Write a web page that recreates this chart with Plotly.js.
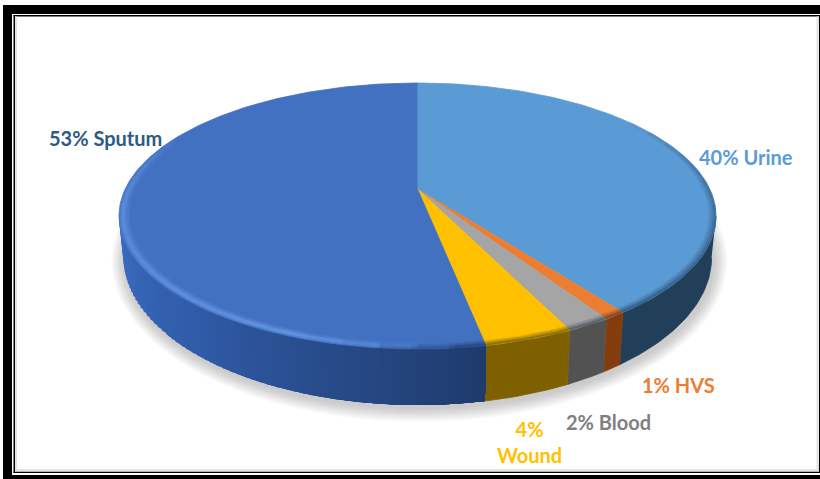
<!DOCTYPE html>
<html>
<head>
<meta charset="utf-8">
<script src="https://cdn.plot.ly/plotly-3.0.1.min.js"></script>
<style>html,body{margin:0;padding:0;background:#fff;overflow:hidden}#chart{width:820px;height:479px}</style>
</head>
<body>
<div id="chart"></div>
<script>
// Specimen shares, clockwise from twelve o'clock
const categories = ['Urine', 'HVS', 'Blood', 'Wound', 'Sputum'];
const shares = [40, 1, 2, 4, 53];
const faceColors = ['#5b9bd5', '#ed7d31', '#a5a5a5', '#ffc000', '#4271c2'];
const wallColors = ['#223f59', '#843c0c', '#525252', '#7f6000', '#2f5aa5'];
const labelColors = ['#5b9bd5', '#ed7d31', '#7f7f7f', '#ffc000', '#2d5a85'];
const labelTexts = ['40% Urine', '1% HVS', '2% Blood', '4%<br>Wound', '53% Sputum'];
const labelX = [746, 678, 608, 529, 105.5];
const labelY = [157, 385, 422, 442, 138];

// Perspective disc drawn in a 820 x 479 unit plot area
const CX = 417.5, CY = 189, RX = 292.3, PERSP = -0.203, DEPTH = 89.15;
const TOP_CY = 216, TOP_RX = 298.5, TOP_RY = 133;
const BASE_CY = 258, BASE_RX = 294, BASE_RY = 147;
const rad = d => d * Math.PI / 180;

function facePoint(deg, r) {
  const u = r * Math.sin(rad(deg)), v = -r * Math.cos(rad(deg)), w = 1 + PERSP * v;
  return [CX + RX * u / w, (CY + DEPTH * v) / w];
}
function basePoint(deg) {
  const p = facePoint(deg, 1);
  const s = (p[0] - CX) / TOP_RX, c = (p[1] - TOP_CY) / TOP_RY;
  return [CX + BASE_RX * s, BASE_CY + BASE_RY * c];
}
function range(a, b, step) {
  const out = [];
  for (let d = a; d < b; d += step) out.push(d);
  out.push(b);
  return out;
}
function mix(a, b, t) {
  const ca = [1, 3, 5].map(i => parseInt(a.substr(i, 2), 16));
  const cb = [1, 3, 5].map(i => parseInt(b.substr(i, 2), 16));
  return 'rgb(' + ca.map((v, i) => Math.round(v + (cb[i] - v) * t)).join(',') + ')';
}

const traces = [];
function poly(pts, fill, edge) {
  traces.push({
    x: pts.map(p => p[0]), y: pts.map(p => p[1]), type: 'scatter', mode: 'lines',
    fill: 'toself', fillcolor: fill, line: {color: edge || fill, width: edge ? 0.8 : 0},
    hoverinfo: 'skip', showlegend: false
  });
}
function stroke(pts, color, width) {
  traces.push({
    x: pts.map(p => p[0]), y: pts.map(p => p[1]), type: 'scatter', mode: 'lines',
    line: {color: color, width: width}, hoverinfo: 'skip', showlegend: false
  });
}

// Soft ground shadow under the disc
const shadowAngles = range(0, 360, 4);
for (let k = 14; k >= 1; k--) {
  poly(shadowAngles.map(d => [
    CX + 2 + (BASE_RX + k) * Math.sin(rad(d)),
    BASE_CY + 3 + (BASE_RY + k) * Math.cos(rad(d))
  ]), 'rgba(120,120,120,0.028)', null);
}

// Slice boundaries in degrees
const bounds = [0];
shares.forEach(s => bounds.push(bounds[bounds.length - 1] + s * 3.6));

// Side wall, visible only on the near half of the disc
const WALL_A = 101.7, WALL_B = 258.3;
shares.forEach((s, i) => {
  const a = Math.max(bounds[i], WALL_A), b = Math.min(bounds[i + 1], WALL_B);
  if (b <= a) return;
  if (categories[i] === 'Sputum') {
    // Wall gets lighter away from the front; strips overlap so no seams show
    const steps = range(a, b, 1.5);
    for (let j = steps.length - 2; j >= 0; j--) {
      const d0 = steps[j], d1 = steps[j + 1];
      const t = (d1 - a) / (b - a);
      const col = t < 0.55 ? mix('#1f3a6c', '#2f5aa5', t / 0.55) : mix('#2f5aa5', '#3c6ec3', (t - 0.55) / 0.45);
      const arc = range(a, d1, Math.max(d1 - a, 0.1) / 3);
      poly(arc.map(d => facePoint(d, 1)).concat(arc.slice().reverse().map(basePoint)), col, null);
    }
  } else {
    const arc = range(a, b, 1);
    poly(arc.map(d => facePoint(d, 1)).concat(arc.slice().reverse().map(basePoint)), wallColors[i], wallColors[i]);
  }
});

// Top face wedges
shares.forEach((s, i) => {
  const arc = range(bounds[i], bounds[i + 1], 1).map(d => facePoint(d, 1));
  poly([facePoint(0, 0)].concat(arc), faceColors[i], faceColors[i]);
});

// Bevel along the rim: a dark falloff on the right, a pale highlight on the left
function bevel(a, b, color, strength, layers) {
  layers.forEach(l => {
    const segs = range(a, b, 6);
    for (let j = 0; j < segs.length - 1; j++) {
      const mid = (segs[j] + segs[j + 1]) / 2;
      const alpha = strength(mid) * l[1];
      if (alpha <= 0.005) continue;
      const arc = [segs[j], mid, segs[j + 1]].map(d => facePoint(d, l[0]));
      stroke(arc, 'rgba(' + color + ',' + alpha.toFixed(3) + ')', l[2]);
    }
  });
}
const ramp = (d, a, b) => Math.max(0, Math.min(1, (d - a) / (b - a)));
const darkLayers = [[0.978, 0.08, 2], [0.983, 0.14, 2], [0.988, 0.22, 2], [0.993, 0.32, 2], [0.998, 0.42, 2]];
bevel(55, 186, '10,25,45', d => 0.8 * ramp(d, 55, 105) * (1 - ramp(d, 170, 186) * 0.9), darkLayers);
const lightLayers = [[0.968, 0.06, 2], [0.973, 0.12, 2], [0.978, 0.2, 2], [0.983, 0.3, 2], [0.988, 0.34, 2], [0.993, 0.22, 2], [0.998, 0.1, 2]];
bevel(174, 298, '130,180,255', d => ramp(d, 174, 200) * (1 - ramp(d, 262, 298)), lightLayers);

// Picture frame around the chart
const frame = [
  [3, 5, 820, 14], [3, 5, 12, 479], [3, 475, 820, 479],
  [13.5, 15, 820, 16.5], [13.5, 15, 15, 473], [13.5, 471.5, 820, 473], [819, 16, 820, 472]
];
const inner = [[15, 16.5, 17, 471], [15, 469, 819, 471.5], [816.5, 16.5, 819, 471]];
const shapes = frame.map(r => ({type: 'rect', xref: 'x', yref: 'y', x0: r[0], y0: r[1], x1: r[2], y1: r[3], fillcolor: '#000', line: {width: 0}}))
  .concat(inner.map(r => ({type: 'rect', xref: 'x', yref: 'y', x0: r[0], y0: r[1], x1: r[2], y1: r[3], fillcolor: '#e4e4e4', line: {width: 0}})));

const annotations = categories.map((c, i) => ({
  x: labelX[i], y: labelY[i], xref: 'x', yref: 'y', text: '<b>' + labelTexts[i] + '</b>',
  showarrow: false, align: 'center', xanchor: 'center', yanchor: 'middle',
  font: {family: 'Lato, "Open Sans", sans-serif', size: 20, color: labelColors[i]}
}));

Plotly.newPlot('chart', traces, {
  width: 820, height: 479,
  margin: {l: 0, r: 0, t: 0, b: 0},
  paper_bgcolor: '#fff', plot_bgcolor: '#fff',
  showlegend: false,
  xaxis: {range: [0, 820], visible: false, fixedrange: true},
  yaxis: {range: [479, 0], visible: false, fixedrange: true},
  shapes: shapes,
  annotations: annotations
}, {staticPlot: true, displayModeBar: false});
</script>
</body>
</html>
